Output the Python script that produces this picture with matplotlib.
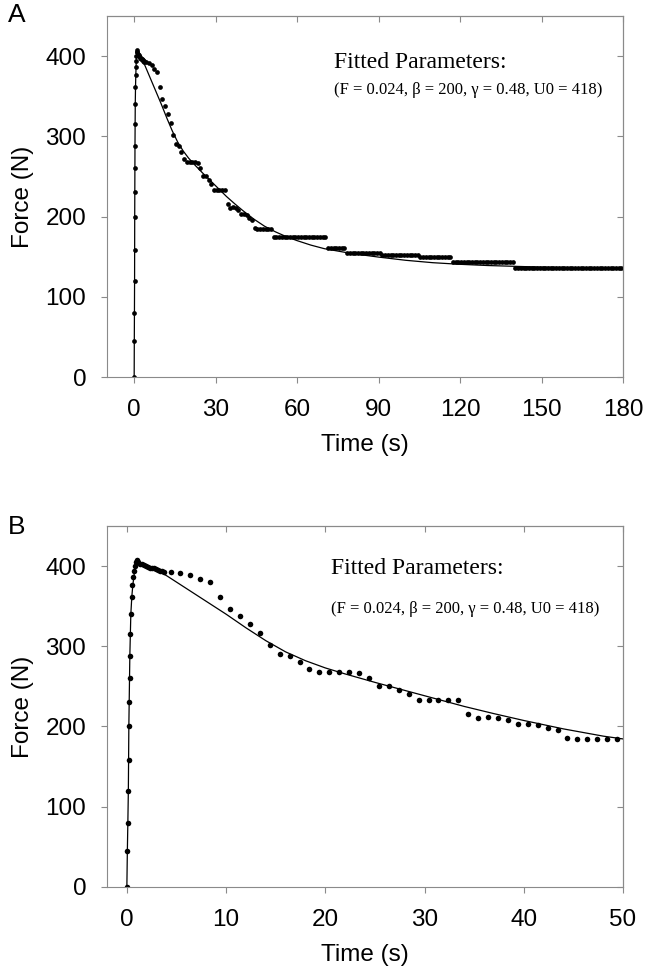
import numpy as np
import matplotlib
matplotlib.use("Agg")
import matplotlib.pyplot as plt

plt.rcParams.update({"font.family": "Liberation Sans", "font.size": 17.5})

# measured force: loading ramp, peak cluster, then ~1 s samples
rise_t = [0.0, 0.05, 0.1, 0.14, 0.18, 0.22, 0.26, 0.29, 0.32, 0.35, 0.40, 0.48, 0.56, 0.64, 0.72, 0.80]
rise_F = [0, 45, 80, 120, 158, 200, 230, 260, 288, 315, 340, 362, 376, 386, 394, 400]
peak_t = [0.9, 1.0, 1.1, 1.3, 1.5, 1.7, 1.9, 2.1, 2.3, 2.5, 2.7, 2.9, 3.1, 3.3, 3.5, 3.7]
peak_F = [405, 407, 405, 403, 402, 401, 400, 399, 398, 397, 397, 396, 395, 394, 394, 393]
samp_t = [4.4, 5.4, 6.4, 7.4, 8.4, 9.4, 10.4, 11.4, 12.4, 13.4, 14.4, 15.4, 16.4, 17.4, 18.4,
          19.4, 20.4, 21.4, 22.4, 23.4, 24.4, 25.4, 26.4, 27.4, 28.4, 29.4, 30.4, 31.4, 32.4,
          33.4, 34.4, 35.4, 36.4, 37.4, 38.4, 39.4, 40.4, 41.4, 42.4, 43.4, 44.4, 45.4, 46.4,
          47.4, 48.4, 49.4]
samp_F = [393, 391, 389, 384, 380, 362, 346, 338, 328, 317, 302, 290, 288, 281, 272,
          268, 268, 268, 268, 267, 261, 251, 250, 245, 241, 233, 233, 233, 233,
          233, 216, 211, 212, 211, 208, 203, 203, 202, 198, 196, 186, 185, 185,
          185, 185, 184]
# later part (panel A): plateaus of the quantised signal, sampled every 1 s
step_start = [50.4, 51.4, 71.4, 78.4, 91.4, 105.4, 117.4, 140.4]
step_end = [50.4, 70.4, 77.4, 90.4, 104.4, 116.4, 139.4, 179.4]
step_F = [184, 175, 161, 154, 152, 150, 143, 136]

# fitted model curve
curve_t = [0, 0.05, 0.1, 0.15, 0.2, 0.3, 0.4, 0.5, 0.6, 0.7, 0.8, 0.9, 1, 2, 3, 4, 5, 6, 8, 10,
           12, 14, 16, 18, 20, 22, 25, 28, 31, 34, 37, 40, 44, 48, 50, 52, 56, 60, 65, 70, 80, 90,
           100, 110, 120, 130, 140, 150, 160, 170, 180]
curve_F = [0, 45, 80, 120, 200, 288, 340, 362, 376, 386, 396, 403, 406, 401, 395, 388, 380, 372,
           356, 340, 323, 307, 293, 282, 273, 265.5, 255, 245, 235, 225, 216, 207.5, 197, 188,
           184.5, 181, 175, 170, 164.5, 160, 154, 149.5, 145.5, 142.5, 140.5, 139, 138, 137,
           136.5, 136, 136]

tail_t, tail_F = [], []
for s, e, f in zip(step_start, step_end, step_F):
    tt = np.arange(s, e + 0.5, 1.0)
    tail_t += list(tt); tail_F += [f] * len(tt)

data_t = np.array(rise_t + peak_t + samp_t + tail_t)
data_F = np.array(rise_F + peak_F + samp_F + tail_F)

SP = "#8a8a8a"
yticks = [0, 100, 200, 300, 400]

def style(ax, xlim, xticks):
    ax.set_xlim(*xlim); ax.set_ylim(0, 450)
    ax.set_xticks(xticks); ax.set_yticks(yticks)
    ax.tick_params(axis="x", direction="out", length=4, width=0.8, color=SP, pad=12)
    ax.tick_params(axis="y", direction="out", length=4, width=0.8, color=SP, pad=11)
    for sp in ax.spines.values():
        sp.set_color(SP); sp.set_linewidth(0.8)
    top = ax.secondary_xaxis("top")
    top.set_xticks(xticks); top.set_xticklabels([])
    top.tick_params(direction="in", length=4, width=0.8, color=SP)
    rt = ax.secondary_yaxis("right")
    rt.set_yticks(yticks); rt.set_yticklabels([])
    rt.tick_params(direction="in", length=4, width=0.8, color=SP)
    for a in (top, rt):
        for sp in a.spines.values():
            sp.set_color(SP); sp.set_linewidth(0.8)
    ax.set_xlabel("Time (s)", labelpad=9)
    ax.set_ylabel("Force (N)", labelpad=8)

fig = plt.figure(figsize=(6.47, 9.75), dpi=100)
axA = fig.add_axes([0.1654, 0.6133, 0.7975, 0.3703])
axB = fig.add_axes([0.1654, 0.0903, 0.7975, 0.3703])

axA.plot(curve_t, curve_F, color="black", lw=0.9)
axA.plot(data_t, data_F, "o", color="black", ms=3.4, mew=0)
style(axA, (-10, 180), [0, 30, 60, 90, 120, 150, 180])
axA.text(0.439, 0.857, "Fitted Parameters:", transform=axA.transAxes,
         family="Liberation Serif", fontsize=17, va="baseline")
axA.text(0.439, 0.785, "(F = 0.024, \u03b2 = 200, \u03b3 = 0.48, U0 = 418)", transform=axA.transAxes,
         family="Liberation Serif", fontsize=12, va="baseline")

axB.plot(curve_t, curve_F, color="black", lw=0.9)
mb = data_t <= 50
axB.plot(data_t[mb], data_F[mb], "o", color="black", ms=4.0, mew=0)
style(axB, (-2, 50), [0, 10, 20, 30, 40, 50])
axB.text(0.435, 0.866, "Fitted Parameters:", transform=axB.transAxes,
         family="Liberation Serif", fontsize=17, va="baseline")
axB.text(0.435, 0.758, "(F = 0.024, \u03b2 = 200, \u03b3 = 0.48, U0 = 418)", transform=axB.transAxes,
         family="Liberation Serif", fontsize=12, va="baseline")

fig.text(8 / 647, 1 - 3.5 / 975, "A", fontsize=19, ha="left", va="top")
fig.text(8 / 647, 1 - 515.5 / 975, "B", fontsize=19, ha="left", va="top")

fig.savefig("out.png", dpi=100)
print("saved out.png")
